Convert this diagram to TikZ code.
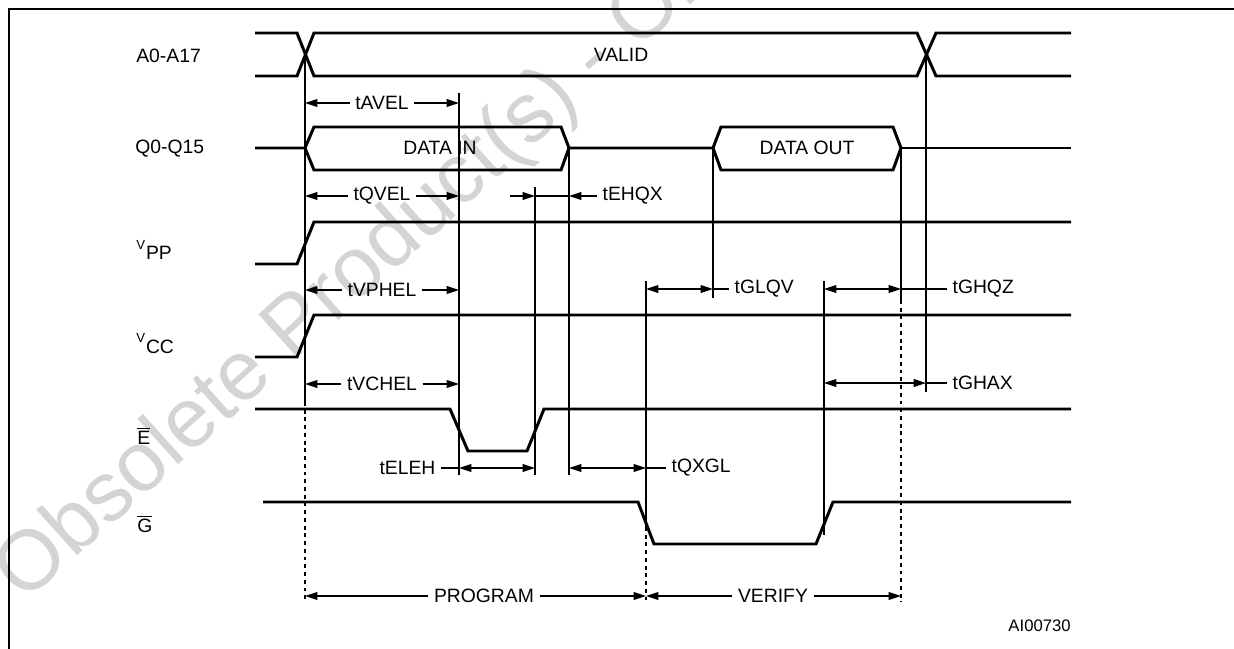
\documentclass[tikz,border=0pt]{standalone}
\usepackage{fontspec}
\setmainfont{Liberation Sans}
\usetikzlibrary{arrows.meta}

\tikzset{
  sig/.style={line width=1.7pt, line join=miter},
  tk/.style={line width=0.6pt},
  dots/.style={line width=0.6pt, dash pattern=on 2.2pt off 2.2pt},
  >={Triangle[length=7pt,width=4.4pt]},
  lbl/.style={inner sep=3pt},
  signame/.style={anchor=west, inner sep=0pt},
}
\newcommand{\smallv}{\raisebox{6.2pt}{\fontsize{7.5}{8}\selectfont V}\kern.5pt}

\begin{document}
\begin{tikzpicture}[x=0.02cm, y=-0.02cm, font=\fontsize{11}{13}\selectfont]
		\useasboundingbox (0,0) rectangle (1234,649);
		\node[text=black!17, rotate=42, anchor=base west, font=\fontsize{48}{56}\selectfont] (wm) at (20,608) {Obsolete Product(s) - Obsolete Product(s)};
		\draw[line width=1.1pt] (9,649) -- (9,9) -- (1234,9);
		% signal names
		\node[signame] (a) at (136,56) {A0-A17};
		\node[signame] (q) at (135,149) {Q0-Q15};
		\node[signame] (vpp) at (136,250) {\smallv PP};
		\node[signame] (vcc) at (136,344) {\smallv CC};
		\node[signame] (e) at (137,436) {$\overline{\mbox{E}}$};
		\node[signame] (g) at (137,524) {$\overline{\mbox{G}}$};
		% waveforms
		\draw[sig] (255,33) -- (297,33) -- (314,76) -- (917,76) -- (936,33) -- (1071,33);
		\draw[sig] (255,76) -- (297,76) -- (314,33) -- (917,33) -- (936,76) -- (1071,76);
		\node (valid) at (621,55) {VALID};
		\draw[sig] (255,148) -- (305,148) -- (314,127) -- (561,127) -- (569,148) -- (561,170) -- (314,170) -- (305,148);
		\draw[sig] (569,148) -- (713,148) -- (721,127) -- (893,127) -- (901,148) -- (893,170) -- (721,170) -- (713,148);
		\draw[sig] (901,148) -- (1071,148);
		\node (din) at (440,148) {DATA IN};
		\node (dout) at (807,148) {DATA OUT};
		\draw[sig] (255,264) -- (297,264) -- (314,222) -- (1071,222);
		\draw[sig] (255,357) -- (297,357) -- (314,315) -- (1071,315);
		\draw[sig] (255,409) -- (450,409) -- (468,451) -- (527,451) -- (544,409) -- (1071,409);
		\draw[sig] (263,502) -- (638,502) -- (654,544) -- (816,544) -- (833,502) -- (1071,502);
		% timing marks
		\draw[tk] (305,55) -- (305,402);
		\draw[dots] (305,402) -- (305,602);
		\draw[tk] (459,93) -- (459,475);
		\draw[tk] (535,187) -- (535,475);
		\draw[tk] (569,148) -- (569,475);
		\draw[tk] (646,281) -- (646,527);
		\draw[dots] (646,527) -- (646,602);
		\draw[tk] (713,148) -- (713,298);
		\draw[tk] (824,281) -- (824,535);
		\draw[tk] (901,148) -- (901,300);
		\draw[dots] (901,300) -- (901,602);
		\draw[tk] (926,55) -- (926,392);
		% parameters
		\node[lbl] (tavel) at (382,103) {tAVEL};
		\draw[tk,->] (tavel.west) -- (305,103);
		\draw[tk,->] (tavel.east) -- (459,103);
		\node[lbl] (tqvel) at (382,196) {tQVEL};
		\draw[tk,->] (tqvel.west) -- (305,196);
		\draw[tk,->] (tqvel.east) -- (459,196);
		\node[lbl, anchor=west] (tehqx) at (597,196) {tEHQX};
		\draw[tk,->] (510,196) -- (535,196);
		\draw[tk] (535,196) -- (569,196);
		\draw[tk,->] (tehqx.west) -- (569,196);
		\node[lbl] (tvphel) at (382,290) {tVPHEL};
		\draw[tk,->] (tvphel.west) -- (305,290);
		\draw[tk,->] (tvphel.east) -- (459,290);
		\node[lbl, anchor=west] (tglqv) at (729,289) {tGLQV};
		\draw[tk,<->] (646,289) -- (713,289);
		\draw[tk] (713,289) -- (tglqv.west);
		\node[lbl, anchor=west] (tghqz) at (947,289) {tGHQZ};
		\draw[tk,<->] (824,289) -- (901,289);
		\draw[tk] (901,289) -- (tghqz.west);
		\node[lbl] (tvchel) at (382,384) {tVCHEL};
		\draw[tk,->] (tvchel.west) -- (305,384);
		\draw[tk,->] (tvchel.east) -- (459,384);
		\node[lbl, anchor=west] (tghax) at (947,383) {tGHAX};
		\draw[tk,<->] (824,383) -- (926,383);
		\draw[tk] (926,383) -- (tghax.west);
		\node[lbl, anchor=east] (teleh) at (441,468) {tELEH};
		\draw[tk] (teleh.east) -- (459,468);
		\draw[tk,<->] (459,468) -- (535,468);
		\node[lbl, anchor=west] (tqxgl) at (666,468) {tQXGL};
		\draw[tk,<->] (569,468) -- (646,468);
		\draw[tk] (646,468) -- (tqxgl.west);
		% modes
		\node[lbl] (prog) at (484,596) {PROGRAM};
		\draw[tk,->] (prog.west) -- (305,596);
		\draw[tk,->] (prog.east) -- (646,596);
		\node[lbl] (verif) at (773,596) {VERIFY};
		\draw[tk,->] (verif.west) -- (646,596);
		\draw[tk,->] (verif.east) -- (901,596);
		\node[anchor=east, inner sep=0pt, font=\fontsize{9.5}{11}\selectfont] (ref) at (1071,626) {AI00730};
	\end{tikzpicture}
\end{document}
